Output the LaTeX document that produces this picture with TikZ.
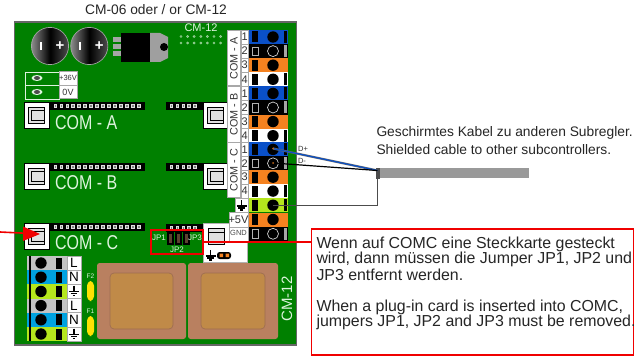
\documentclass[tikz,border=0pt]{standalone}
\usepackage{fontspec}
\setmainfont{Liberation Sans}
\definecolor{board}{HTML}{008000}
\definecolor{pale}{HTML}{DDF3DD}
\definecolor{tblue}{HTML}{0A50C8}
\definecolor{torange}{HTML}{F58220}
\definecolor{tlime}{HTML}{B5E61D}
\definecolor{tgray}{HTML}{C3C3C3}
\definecolor{tcyan}{HTML}{00A2E0}
\definecolor{brownA}{HTML}{B98060}
\definecolor{brownB}{HTML}{C08A48}
\definecolor{redl}{HTML}{F00000}
\definecolor{cell}{HTML}{A8A8A8}
\newcommand{\px}[1]{\fontsize{\dimexpr#1pt*3/4\relax}{\dimexpr#1pt*9/10\relax}\selectfont}
\tikzset{
 x=0.75pt,y=-0.75pt,
 lab/.style={inner sep=0,outer sep=0,text=black!85},
 pcb/.style={inner sep=0,outer sep=0,text=pale},
 numcell/.style={draw=cell,fill=white,line width=.5pt},
 redbox/.style={draw=redl,line width=1.1pt},
 wire/.style={line width=.9pt}
}
\newcommand{\trow}[3]{%
 \fill[#2] (248,#1) rectangle (288,#1+14.1);
 \ifnum#3=1
  \draw[gray!60,line width=.5pt] (252.5,#1+3) rectangle (258,#1+11.5);
  \draw[white!85!black,line width=.5pt] (273,#1+7) circle (5.5);
  \fill[gray!70] (284,#1+1) rectangle (287,#1+13);
 \else
  \fill[black] (252,#1+1.5) rectangle (258,#1+12.5);
  \fill[black] (273,#1+7) circle (5.7);
  \ifnum#3=0 \fill[black] (284,#1+1) rectangle (286.5,#1+13);\fi
 \fi}
\newcommand{\num}[2]{\draw[numcell] (241,#1) rectangle (248,#1+14.1);
 \node[inner sep=0,font=\px{11},text=black!80] at (244.6,#1+7) {#2};}
\newcommand{\lrow}[2]{\fill[#2] (27,#1) rectangle (67,#1+14.2);
 \fill[black] (56,#1+1.5) rectangle (62,#1+12.5);
 \fill[black] (41,#1+7) circle (5.7);
 \draw[numcell] (67,#1) rectangle (81,#1+14.2);}
\newcommand{\gnd}[2]{\draw[black,line width=.9pt] (#1,#2-5) -- (#1,#2+1) (#1-5,#2+1) -- (#1+5,#2+1);
 \draw[black,line width=.9pt] (#1-3.2,#2+3) -- (#1+3.2,#2+3);
 \draw[black,line width=.9pt] (#1-1.3,#2+5) -- (#1+1.3,#2+5);}
\newcommand{\sockbox}[3]{\fill[white,draw=black,line width=.7pt] (#1,#2) rectangle (#1+#3,#2+26);
 \fill[black!12] (#1+4,#2+5) rectangle (#1+20,#2+21);
 \draw[black,line width=.6pt] (#1+4,#2+5) rectangle (#1+20,#2+21);
 \draw[black,line width=.6pt] (#1+7,#2+8) -- (#1+20,#2+8) (#1+7,#2+8) -- (#1+7,#2+18) -- (#1+20,#2+18);}
\newcommand{\hdr}[4]{\fill[black] (#1,#2) rectangle (#3,#2+8);
 \foreach \k in {1,...,#4} {\draw[gray!25,fill=black!50,line width=.45pt] ({#1+5.2+(\k-1)*5.95-1.3},#2+2.7) rectangle ++(2.7,2.7);}}
\begin{document}
\begin{tikzpicture}
\useasboundingbox (0,0) rectangle (634,356);
\fill[white] (0,0) rectangle (634,356);
\fill[board,draw=gray!80!black,line width=.8pt] (14.5,22) rectangle (296.5,345);
\node[lab,font=\px{13.8}] (title) at (156,9.5) {CM-06 oder / or CM-12};
\foreach \n/\cx in {capa/50,capb/89.3}{
 \shade[left color=gray!90,right color=black!70,middle color=black,draw=gray!70,line width=.5pt] (\cx,46) circle (18.6);
 \fill[white] (\cx-10,42) rectangle (\cx-8,50);
 \node[text=white,inner sep=0,font=\bfseries\px{15}] at (\cx+10,45.8) {+};
}
\foreach \yy in {39.5,46.5,54}{\fill[gray!70] (113,\yy-2.5) rectangle (122,\yy+2.5);}
\fill[gray!75] (150,33) -- (160,33) -- (168,37) -- (168,58) -- (160,62) -- (150,62) -- cycle;
\fill[black] (121,33) rectangle (150,62);
\fill[black] (164,47) circle (4);
\node[pcb,font=\px{11}] (cmtop) at (201,28) {CM-12};
\foreach \xx in {0,...,6}{\foreach \yy in {36.5,43}{\draw[pale!70!board,line width=.5pt] (181+\xx*6.6,\yy) circle (1);}}
\draw[pale,line width=.7pt] (25,72) rectangle (59,85) (25,85) rectangle (59,99);
\draw[numcell] (59,71.5) rectangle (77,85);
\draw[numcell] (59,85) rectangle (77,98);
\node[inner sep=0,font=\px{7.5},text=black!80] at (68,78) {+36V};
\node[inner sep=0,font=\px{9},text=black!80] at (68,92) {0V};
\foreach \yy in {78,92}{\fill[pale] (37,\yy) ellipse (5.5 and 3); \fill[black!70] (37,\yy) ellipse (3 and 2);}
\foreach \yy in {102,163,223}{\hdr{50}{\yy}{145}{15}\sockbox{24.5}{\yy}{25}}
\foreach \yy in {102,163}{\hdr{166}{\yy}{203}{5}\sockbox{203}{\yy}{25}}
\node[pcb,anchor=west,font=\px{20},xscale=.8] (coma) at (55,123) {COM - A};
\node[pcb,anchor=west,font=\px{20},xscale=.8] (comb) at (55,183) {COM - B};
\node[pcb,anchor=west,font=\px{20},xscale=.8] (comc) at (55,243) {COM - C};
\fill[white,draw=gray!60,line width=.5pt] (203,223) rectangle (247,262);
\hdr{166}{223.5}{203}{5}
\fill[black!12] (208,228) rectangle (224,244);
\draw[black,line width=.6pt] (208,228) rectangle (224,244);
\draw[black,line width=.6pt] (208,232) -- (224,232);
\gnd{210.5}{255}
\fill[black,rounded corners=2pt] (217,252) rectangle (231,259);
\fill[torange] (219.5,253.7) rectangle (223,257.2) (225.5,253.7) rectangle (229,257.2);
\trow{30}{tblue}{0}\trow{44.1}{black}{1}\trow{58.2}{torange}{2}\trow{72.3}{white}{0}
\trow{86.4}{tblue}{0}\trow{100.5}{black}{1}\trow{114.6}{torange}{2}\trow{128.7}{white}{0}
\trow{142.4}{tblue}{0}\trow{156.3}{black}{1}\trow{170.2}{torange}{2}\trow{184.1}{white}{0}
\trow{198.2}{tlime}{0}\trow{212.5}{torange}{2}\trow{226.8}{black}{1}
\foreach \yy/\t in {30/1,44.1/2,58.2/3,72.3/4,86.4/1,100.5/2,114.6/3,128.7/4,142.4/1,156.3/2,170.2/3,184.1/4}{\num{\yy}{\t}}
\foreach \a/\b/\c/\t in {30.5/85.5/58.5/COM - A,86.5/142/114.5/COM - B,142.5/197/170/COM - C}{
 \draw[numcell] (227,\a) rectangle (240.5,\b);
 \node[inner sep=0,rotate=90,font=\px{10.8},text=black!80] at (234,\c) {\t};}
\draw[numcell] (235,198.5) rectangle (248,212.5); \gnd{241.5}{205}
\draw[numcell] (229,212.5) rectangle (248,227);
\node[inner sep=0,font=\px{11},text=black!80] at (238.5,219.8) {+5V};
\draw[numcell] (229,227) rectangle (248,241);
\node[inner sep=0,font=\px{7.5},text=black!70] at (238.5,233) {GND};
\lrow{256}{tgray}\lrow{270.2}{tcyan}\lrow{284.4}{tlime}\lrow{298.6}{tgray}\lrow{312.8}{tcyan}\lrow{327}{tlime}
\fill[black] (28.5,256) rectangle (30.5,341);
\foreach \yy/\t in {263.1/L,277.3/N,305.7/L,319.9/N}{\node[inner sep=0,font=\px{13.5},text=black] at (74,\yy) {\t};}
\gnd{74}{290.5}\gnd{74}{333.5}
\foreach \yy/\t/\q in {281/F2/277,316/F1/312}{
 \fill[yellow!85!orange,rounded corners=3.4pt] (87,\yy) rectangle (94,\yy+20);
 \node[pcb,font=\px{6.5}] at (90.5,\q-0.5) {\t};}
\fill[brownA,rounded corners=2pt] (97,263) rectangle (186,339);
\fill[brownA,rounded corners=2pt] (188,263) rectangle (278,339);
\filldraw[fill=brownB,draw=brownA!85!black,line width=.5pt,rounded corners=3pt] (110,273) rectangle (173,329);
\filldraw[fill=brownB,draw=brownA!85!black,line width=.5pt,rounded corners=3pt] (201,273) rectangle (265,329);
\node[pcb,rotate=90,font=\px{15}] (cmbot) at (287,299) {CM-12};
\foreach \xx in {167,175,183}{\fill[black] (\xx,232) rectangle (\xx+6.5,245); \fill[brownA!50!black] (\xx+2,234) rectangle (\xx+4.5,243);}
\node[pcb,font=\px{8}] at (159,237.5) {JP1};
\node[pcb,font=\px{8}] at (195,237.5) {JP3};
\node[pcb,font=\px{8}] at (177,250) {JP2};
\coordinate (dp) at (273,148.5);
\coordinate (dm) at (273,163);
\coordinate (sh) at (273,205.5);
\coordinate (capt) at (377.5,170.5);
\coordinate (capb) at (377.5,178);
\coordinate (cshield) at (377.5,205.5);
\fill[gray!80] (379,168) rectangle (529,178);
\fill[gray!60!black] (376,167.5) rectangle (380,178.5);
\draw[black!60,line width=1.6pt] (dp) -- (capt);
\draw[tblue,wire] (dp) -- (capt);
\draw[black,wire] (dm) -- (capt);
\draw[gray!60!black,wire] (sh) -- (cshield) -- (capb);
\fill[torange!80!black] (dp) circle (1);
\fill[torange!80!black] (dm) circle (1);
\node[inner sep=0,font=\px{7.5},text=black!80] (dplab) at (303,148.5) {D+};
\node[inner sep=0,font=\px{7.5},text=black!80] (dmlab) at (302,161) {D-};
\node[lab,anchor=west,font=\px{13.8}] (t1) at (376.5,132.5) {Geschirmtes Kabel zu anderen Subregler.};
\node[lab,anchor=west,font=\px{13.8}] (t2) at (376.5,150) {Shielded cable to other subcontrollers.};
\draw[redbox] (151,230) rectangle (203,254);
\coordinate (jp) at (203,242);
\node[draw=redl,line width=1.1pt,fill=white,minimum width=241.5pt,minimum height=94.5pt,inner sep=0,outer sep=0] (call) at (472.5,292) {};
\draw[redbox] (jp) -- (call.west |- jp);
\foreach \yy/\t in {244/Wenn auf COMC eine Steckkarte gesteckt,259.5/{wird, dann müssen die Jumper JP1, JP2 und},275/JP3 entfernt werden.,307/{When a plug-in card is inserted into COMC,},322/{jumpers JP1, JP2 and JP3 must be removed.}}
 {\node[lab,anchor=west,font=\px{15.9}] at (316.5,\yy) {\t};}
\coordinate (as) at (0,232);
\coordinate (ae) at (40,234);
\draw[redl,line width=1.2pt] (as) -- (25,233.2);
\fill[redl] (ae) -- (23,226.5) -- (23,241) -- cycle;
\end{tikzpicture}
\end{document}
